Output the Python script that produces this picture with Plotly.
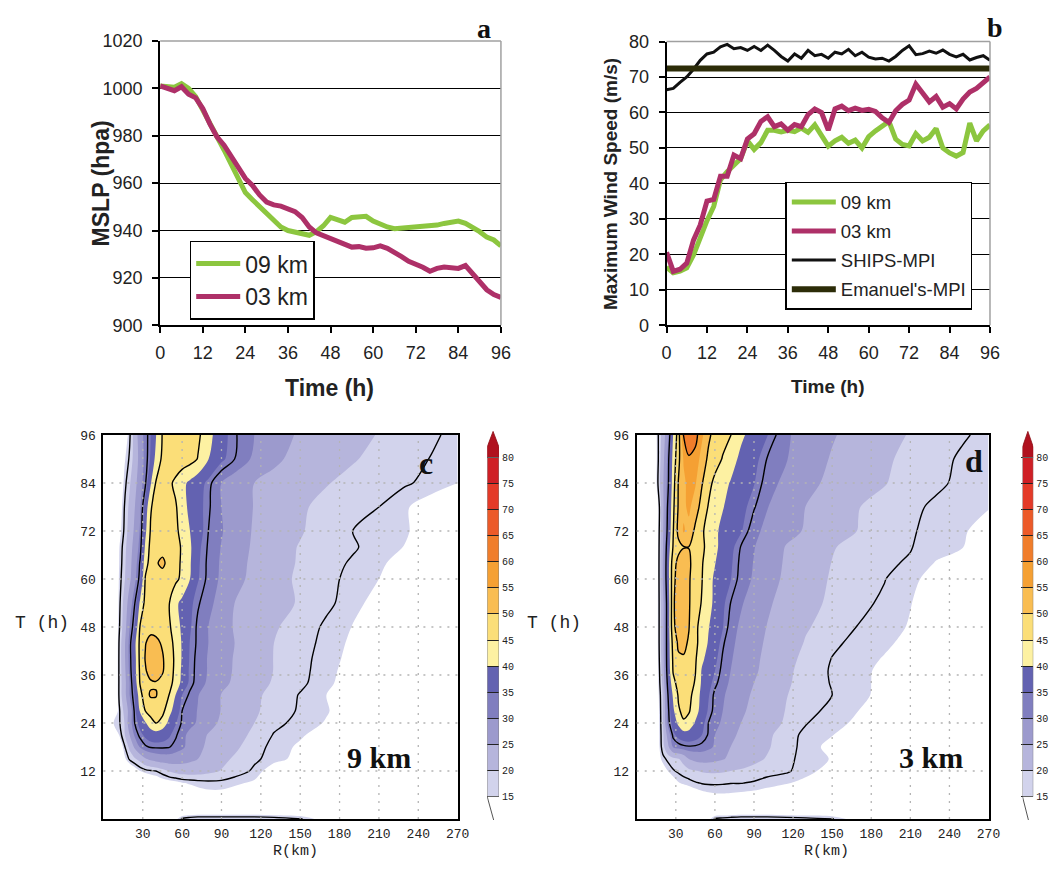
import plotly.graph_objects as go

# ---------------- data: panel a (MSLP) ----------------
T_A = list(range(0, 97, 2))
MSLP_09KM = [1001, 1001, 1000.5, 1002, 1000, 996.5, 991, 986, 980, 974, 968, 962, 956, 953, 950, 947, 944,
             941.5, 940, 939.5, 938.5, 938, 939.5, 942, 945.5, 944.5, 943.5, 945.5, 946, 946, 944, 942.5,
             941.5, 940.8, 941, 941.4, 941.4, 941.6, 942, 942.3, 943, 943.5, 944, 943, 941.5, 939.5, 937.2,
             936, 933.5]
MSLP_03KM = [1001, 1000, 999, 1000.7, 997.5, 996, 991.5, 985, 979.5, 976, 971, 966, 962, 959, 955, 952,
             950.8, 950.3, 949.3, 948, 945.5, 941.5, 939, 937.8, 936.8, 935.5, 934, 933, 933.2, 932.5, 932.7,
             933.5, 932.5, 931, 929, 927, 926, 924.5, 922.8, 924, 924.6, 924.5, 924, 925.2, 922, 918.5, 915,
             913, 911.7]

# ---------------- data: panel b (max wind) ----------------
T_B = list(range(0, 97, 2))
VMAX_09KM = [16.4, 14.8, 15.3, 16.2, 19.8, 24.7, 29.5, 33.5, 41, 43.3, 45, 47, 52, 49.6, 51.5, 55, 55, 54.5,
             55, 54.6, 55.6, 54.4, 56.5, 53.5, 50.5, 52, 53, 51.3, 52.2, 50, 53.2, 54.8, 56, 57.5, 52.5, 51,
             50.6, 54, 52, 53, 55.5, 50, 48.6, 47.7, 48.7, 57, 52, 54.8, 56.5]
VMAX_03KM = [20.6, 15.2, 15.8, 17.5, 24, 28.3, 35, 35.5, 42, 42, 48, 47, 52.5, 54, 57.5, 58.8, 56, 56.8, 55,
             56.6, 56, 59.4, 61, 60, 55, 61, 61.8, 60.5, 61.2, 60.6, 60.9, 60.3, 58.5, 57.2, 60.5, 62.3, 63.5,
             68, 65.5, 63, 64.5, 61.5, 62.5, 61, 63.8, 65.8, 66.8, 68.6, 70]
SHIPS_MPI = [66.4, 66.8, 68.5, 70, 72.2, 74.7, 76.5, 77, 78.5, 79.2, 78, 78.3, 77.5, 78.6, 77.5, 79, 77.5,
             75.8, 74.5, 76.5, 75.3, 77.5, 76, 76.4, 75.3, 77, 76.5, 77.8, 76, 77, 75.6, 75.1, 75.3, 74.5,
             75.8, 77.5, 78.8, 76.3, 76.6, 77.3, 76.7, 77.6, 76.4, 75.7, 76.4, 74.8, 75.5, 76, 74.7]
EMANUEL_MPI = 72.4

# ---------------- data: panels c/d (wind speed vs radius & time) ----------------
R_KM = [0, 8, 12, 16, 20, 24, 28, 32, 36, 40, 45, 50, 55, 60, 66, 72, 80, 90, 100, 115, 130, 150, 170, 190,
        210, 230, 250, 270]
T_H = [0, 3, 6, 9, 12, 15, 18, 21, 24, 27, 31, 34, 37, 40, 44, 48, 54, 60, 64, 68, 72, 78, 84, 90, 96]

WIND_9KM = [
    [5, 5, 6, 6, 7, 7, 8, 8, 9, 10, 11, 12, 14, 17.6, 18.5, 19, 19, 19, 19, 19, 18.5, 17.4, 13, 11, 10, 9, 8, 7],
    [3, 4, 4.5, 5, 5.5, 6, 6.5, 7, 7, 7, 7, 7, 7, 7, 7.5, 7.5, 7.5, 7.5, 7.5, 7.5, 7.5, 7.5, 7.5, 7.5, 7, 7, 6.5, 6],
    [3, 4, 4.5, 5, 6, 6.5, 7.5, 8, 9, 9.5, 10.5, 11.5, 12, 12.5, 13, 13.5, 14, 14, 13.5, 12.5, 11.5, 10.5, 9.5, 8.5, 7.5, 7, 6.5, 6],
    [3, 4, 5, 6, 7, 8, 9, 10, 11, 12, 13, 13.5, 14, 14.8, 15.3, 15.8, 16.2, 16.2, 15.5, 14.5, 13.5, 12, 11, 10, 9, 8, 7, 6],
    [3, 5, 7, 9, 11, 13, 15, 16, 16.6, 17, 18.5, 20.3, 21.3, 22, 22.2, 21.8, 21, 19.8, 18.5, 16.5, 13, 11, 9.5, 8.5, 7.5, 7, 6, 5],
    [3, 6, 9, 14, 17.5, 19.5, 21.5, 24.5, 26, 27, 27.8, 28, 27.6, 27, 26, 25, 23, 21, 19.5, 17.5, 16, 14, 12, 10.5, 9, 8, 7, 6],
    [3, 7, 11, 16.5, 21, 26, 30.5, 32.5, 33.3, 33.5, 33.5, 33.2, 32, 30.8, 28.5, 26.3, 24, 22, 20.8, 18, 16.3, 14.5, 12.5, 11, 9.5, 8.5, 7.5, 6.5],
    [3, 9, 15, 19.5, 25, 31, 34, 35.8, 37, 37.5, 37, 35.6, 33.5, 31.2, 28.8, 26.8, 24.7, 23, 21.5, 19.2, 16.8, 15.4, 13.5, 12, 10.5, 9, 8, 7],
    [10, 15.5, 16.5, 20, 28, 33.2, 36.5, 39.5, 43, 45.3, 43, 38.8, 35.3, 32.6, 31.2, 29.5, 26.6, 24.2, 22.3, 20, 17.8, 16.1, 14.8, 13, 11.5, 10, 9, 8],
    [5, 10, 16.5, 21, 27, 34, 40.5, 45, 47, 48, 46.5, 41.5, 38, 33, 31.5, 29.8, 27.2, 24.8, 22.8, 20.5, 18.7, 16.6, 15.2, 13.5, 12, 10.5, 9.5, 8.5],
    [4, 8, 17.5, 23, 30, 35.5, 43, 48.5, 50.5, 50.3, 48, 45, 40, 35, 32.4, 30.2, 28, 24.8, 23, 20.7, 19, 16.8, 15, 13.5, 12, 10.5, 9.5, 8.5],
    [4, 8, 17.5, 23, 30, 37.5, 45.5, 48.5, 49.3, 49.6, 48.5, 46.5, 43.5, 38.5, 34, 31.8, 29.3, 26.3, 24.2, 21.6, 19.6, 17.6, 15.5, 13.8, 12.2, 10.8, 9.5, 8.5],
    [4, 8, 17.5, 23.5, 31, 38.5, 46, 49.5, 52, 52.5, 50.5, 47, 44, 39, 34.2, 32, 29.7, 26.6, 24.6, 22, 19.9, 17.8, 15.7, 14, 12.3, 11, 9.7, 8.6],
    [4, 8, 17.5, 24, 31.5, 38.5, 46.5, 50.3, 53, 53, 50.5, 47.5, 44, 39.5, 34.5, 32, 29.7, 26.7, 24.7, 22.2, 19.9, 17.8, 16, 14.2, 12.5, 11, 9.8, 8.7],
    [4, 8, 17.3, 24, 31.5, 39, 46.5, 49.8, 51.5, 51, 49.5, 47, 43.5, 39.5, 34.8, 32.4, 30, 27, 25, 22.4, 20, 18, 16.3, 14.5, 12.8, 11.3, 10, 8.8],
    [4, 8, 16.5, 22.5, 30, 35.5, 45.5, 48, 48.5, 48.5, 47.5, 45.8, 42.5, 39, 35.5, 32.3, 30, 27.3, 24.6, 22.4, 20.4, 18.5, 16.5, 14.9, 13.2, 11.6, 10.2, 9],
    [4, 7.5, 16, 21.5, 27.5, 33, 41, 46.5, 47.5, 47.5, 46.5, 45.3, 41, 38.8, 36, 33.4, 31.2, 28.2, 25, 23.1, 21.5, 19.6, 17.6, 15.8, 14, 12.3, 10.8, 9.5],
    [4, 7, 15.5, 19.5, 24, 29, 34.5, 45.5, 47.5, 48, 48, 47.5, 46, 44, 40, 35.3, 32.2, 29.3, 26.4, 23.8, 21.5, 19.3, 17.7, 16.3, 15, 13, 11.5, 10],
    [4, 7, 15, 19, 23.5, 28, 33.5, 43, 47, 49.5, 51, 48.5, 46.5, 44.3, 40.5, 35.6, 32.3, 29.5, 26.8, 24, 21.7, 19.6, 17.9, 16.7, 15.5, 13.8, 12, 10.5],
    [4, 7, 14.8, 18.5, 23, 27, 31.5, 41, 46.5, 48, 48.3, 48, 46.5, 44.5, 40.8, 36, 32.6, 29.8, 27.3, 24.3, 22, 19.7, 18, 17.3, 16, 14.9, 13, 11],
    [4, 6.5, 13.5, 17.5, 22, 26, 30.5, 39, 45.5, 47.5, 48, 47.5, 46, 43.5, 40, 37, 33, 30.3, 27.8, 24.5, 22.5, 20.4, 18, 17, 16, 15.3, 13.5, 11.5],
    [4, 6.5, 12.5, 17, 21, 25, 29.5, 37, 44.5, 47, 48, 47.3, 45.5, 42.5, 38.5, 36.5, 33.5, 30, 27.8, 24.8, 22.7, 20.5, 19, 18, 17, 15.3, 13.5, 12],
    [4, 6, 11, 15.8, 19.5, 23.5, 28, 32.5, 39.5, 45.3, 47, 46, 44, 41.3, 39, 37, 34, 30, 27.8, 25, 23.5, 21.5, 20.2, 19, 18, 17.3, 16.3, 15],
    [4, 6, 10, 14.5, 17.5, 22, 27, 31.5, 35.5, 41.5, 46, 47.5, 48, 47.8, 46.8, 44.8, 40.1, 35.8, 33, 29.2, 26, 23.3, 21.5, 20.3, 19, 17.8, 16.9, 15.8],
    [4, 5.5, 8, 12, 16.5, 22, 28, 31.5, 35, 39.8, 45.3, 47, 48, 48, 47.5, 46, 41.8, 36.5, 33.4, 30, 27.3, 24.3, 22.5, 21.2, 19.8, 18.6, 17.4, 16.3],
]

WIND_3KM = [
    [5, 5, 6, 6, 7, 7, 8, 8, 9, 10, 11, 12, 14, 17.5, 18, 18.5, 19, 19, 19, 18.5, 18, 17.3, 13, 11, 10, 9, 8, 7],
    [3, 4, 5, 5.5, 6, 6.5, 7, 7, 7, 7, 7, 7, 7, 7.5, 7.5, 7.5, 7.5, 7.5, 7.5, 7.5, 7.5, 7.5, 7.5, 7.5, 7, 7, 6.5, 6],
    [3, 4, 5, 6, 7, 8, 9, 10, 11, 12, 13, 13.8, 14.3, 14.6, 14.7, 14.6, 14.3, 14, 13.5, 12.5, 11.5, 10.5, 9.5, 8.5, 7.5, 7, 6.5, 6],
    [3, 4, 6, 8, 10, 11.5, 13, 14.8, 15.5, 16, 16.7, 17.2, 17.4, 17.4, 17.3, 17.1, 17.1, 16.7, 16, 15.2, 14.3, 12, 11, 10, 9, 8, 7, 6],
    [3, 5, 8, 11, 13, 15, 16.7, 17.5, 18.3, 19, 19.8, 20.3, 20.5, 20.6, 20.4, 20, 19.5, 18.8, 18, 17.4, 15.7, 14, 12.5, 11, 10, 9, 8, 7],
    [3, 6, 9, 13, 16, 17.8, 18.8, 19.7, 21.5, 25, 26.3, 27, 26.8, 26.3, 25.3, 24.2, 22.7, 21, 19.7, 17.5, 16.3, 14.8, 13, 11.5, 10.5, 9.5, 8.5, 7.5],
    [3, 6, 9, 13, 18.5, 24, 30.3, 31.5, 32.3, 32.6, 32.5, 32, 31, 29.5, 27.2, 25, 23.4, 21.8, 20.5, 17.8, 16.3, 14, 13, 12, 10.5, 9.5, 8.5, 7.5],
    [3, 6, 9, 13, 19, 27, 34, 36.5, 37.7, 38, 37, 35, 32.7, 30, 27.7, 26, 24.2, 22.5, 21, 17.8, 16.5, 15.1, 13.5, 12, 11, 10, 9, 8],
    [3, 6, 9, 13, 19.5, 31.5, 37, 41, 44.5, 43, 39.5, 36.3, 33, 31.3, 29.3, 27.5, 25, 23, 21.5, 19.5, 17.1, 15.8, 14.5, 13, 11.5, 10.5, 9.5, 8.5],
    [3, 6, 9, 13, 19.8, 32, 39, 44.5, 46, 45.5, 42, 38, 34.5, 32, 30, 28.2, 25.8, 23.7, 22, 19.8, 17.8, 16.3, 15, 13.6, 12.2, 11, 10, 9],
    [3, 6, 9, 13.5, 20, 33, 41, 45.5, 47, 46.5, 43, 38.5, 35.4, 32.2, 30.5, 28.8, 26.6, 24.3, 22.6, 20.1, 18.6, 17, 15.6, 14.3, 12.8, 11.5, 10.5, 9.5],
    [3, 6, 9, 14, 21, 35, 43.5, 46.8, 47.8, 47.5, 44.5, 39.2, 36.3, 33.8, 31.3, 29.5, 27.4, 25, 23.1, 20.5, 18.6, 16.8, 15.7, 14.3, 12.9, 11.7, 10.6, 9.6],
    [3, 6, 9, 14, 22, 36.5, 45.5, 47.5, 48.3, 48, 45.2, 39.5, 37, 35, 32, 30, 28, 25.7, 23.6, 20.8, 18.6, 16.7, 15.8, 14.3, 13, 11.8, 10.7, 9.7],
    [3, 6, 9, 14.3, 22.5, 37, 46, 49.3, 49.6, 48.5, 45.6, 41, 38.2, 36, 32.6, 30.4, 28.3, 26, 23.9, 21.2, 19, 16.9, 16, 14.8, 13.5, 12.2, 11, 9.9],
    [3, 6, 9, 14.5, 23, 37, 47, 50.8, 51, 49.5, 46.2, 42.8, 39.6, 37.5, 33.5, 31, 28.7, 26.4, 24.4, 21.8, 19.7, 17.5, 16.3, 15.5, 14.2, 12.7, 11.3, 10.1],
    [3, 6, 9, 14.5, 23, 37, 49, 52, 52.5, 50.2, 46.2, 43, 40.3, 37.8, 35.2, 31.8, 29.2, 26.6, 24.9, 22.4, 20.3, 18.7, 16.9, 15.9, 14.8, 13, 11.5, 10.3],
    [3, 6, 9, 14.5, 23, 37, 49, 53.5, 53, 50.5, 47, 44.7, 41.5, 39, 35.8, 33, 30.5, 27.8, 25.7, 23.3, 21.2, 19.3, 17.6, 16.6, 15.1, 13.5, 12, 10.5],
    [3, 6, 9, 14, 25, 38, 48.5, 52.5, 52.5, 50.5, 47.7, 45.2, 41.5, 39.3, 37, 35.2, 31.8, 29.5, 26.8, 24.1, 21.9, 19.6, 18, 17.1, 15.6, 14, 12.5, 11],
    [3, 6, 9, 14, 25, 38, 48, 51.5, 52, 50.8, 48, 45.5, 42, 40.2, 37.5, 35.6, 32.2, 29.8, 27.2, 24.4, 22.2, 19.9, 18.2, 17.3, 16.8, 14.8, 13, 11.5],
    [3, 6, 9, 14, 24.5, 37, 45.5, 48.5, 49.8, 49.9, 48.5, 46, 43.5, 41, 38.5, 36.2, 32.8, 30.2, 27.8, 24.7, 22.5, 20.3, 18.6, 17.8, 17.1, 16, 15.1, 13],
    [3, 6, 9, 13.8, 24, 35, 44.8, 51.5, 55.5, 53.5, 48.8, 45.6, 43.5, 41, 38.7, 37.3, 35.4, 31, 29, 26.3, 24.6, 21.8, 19.9, 18.5, 17.2, 16.4, 15.4, 13.5],
    [3, 6, 9, 13.5, 23.5, 34, 44, 50.5, 54, 56, 52.5, 48, 44.7, 42.5, 40.3, 38.3, 36.4, 33.3, 30.2, 27.3, 24.9, 22.5, 20.1, 18.9, 17.6, 16.5, 15.9, 15.2],
    [3, 6, 9, 16.5, 24, 32, 43, 50.3, 54, 56.5, 55.5, 50.4, 46.5, 43.8, 41.5, 39.7, 37.3, 35.2, 31.6, 28.8, 26.2, 24, 21.6, 20.2, 18.6, 17.5, 16.4, 15.1],
    [3, 6, 9, 16, 23, 31.5, 42, 48.5, 55.5, 59.3, 58, 53, 49, 47, 44.7, 42.2, 38.8, 36.3, 32.9, 30.2, 27.4, 24.6, 22.3, 20.6, 19, 17.8, 16.6, 15.5],
    [3, 6, 9, 16.2, 22, 29, 40.3, 47.5, 60.5, 64, 62, 56, 51, 48.3, 46.5, 45.2, 41, 37.8, 35.2, 30.5, 28.3, 25.4, 23.2, 21.5, 19.7, 18.5, 17.3, 16.3],
]

LEVELS = list(range(15, 81, 5))          # shaded levels (m/s)
LINE_LEVELS = [17, 33, 45, 50, 60]       # black contour lines (m/s)
BAND_COLORS = ['#ffffff', '#d2d3ec', '#b6b5dc', '#9c9acd', '#807ebf', '#6362b1',
               '#fdf1a2', '#fbde78', '#f9bd52', '#f5a033', '#f07d2b', '#ec5a29',
               '#e43a28', '#cf1f25', '#b0121f']
R_TICKS = list(range(30, 271, 30))
T_TICKS = list(range(12, 97, 12))
TIME_TICKS = list(range(0, 97, 12))

GREEN = '#8cc63f'
MAGENTA = '#ae3068'
SANS = 'Arial, Liberation Sans, sans-serif'
MONO = 'Liberation Mono, Courier New, monospace'
SERIF = 'Liberation Serif, Times New Roman, serif'
W, H = 1063, 871


def px(x0, x1):
    return [x0 / W, x1 / W]


def py(ytop, ybot):
    return [1 - ybot / H, 1 - ytop / H]


fig = go.Figure()

# ---- panel a ----
fig.add_trace(go.Scatter(x=T_A, y=MSLP_09KM, mode='lines', name='09 km', line=dict(color=GREEN, width=5),
                         xaxis='x', yaxis='y', legend='legend'))
fig.add_trace(go.Scatter(x=T_A, y=MSLP_03KM, mode='lines', name='03 km', line=dict(color=MAGENTA, width=5),
                         xaxis='x', yaxis='y', legend='legend'))

# ---- panel b ----
fig.add_trace(go.Scatter(x=T_B, y=VMAX_09KM, mode='lines', name='09 km', line=dict(color=GREEN, width=5),
                         xaxis='x2', yaxis='y2', legend='legend2', legendgroup='g1'))
fig.add_trace(go.Scatter(x=T_B, y=VMAX_03KM, mode='lines', name='03 km', line=dict(color=MAGENTA, width=5),
                         xaxis='x2', yaxis='y2', legend='legend2', legendgroup='g2'))
fig.add_trace(go.Scatter(x=T_B, y=SHIPS_MPI, mode='lines', name='SHIPS-MPI', line=dict(color='#111111', width=3),
                         xaxis='x2', yaxis='y2', legend='legend2', legendgroup='g3'))
fig.add_trace(go.Scatter(x=T_B, y=[EMANUEL_MPI] * len(T_B), mode='lines', name="Emanuel's-MPI",
                         line=dict(color='#2c2c08', width=6),
                         xaxis='x2', yaxis='y2', legend='legend2', legendgroup='g4'))

# ---- panels c and d ----
SMOOTH = 0.9
CSCALE = [[k / (len(BAND_COLORS) - 1), c] for k, c in enumerate(BAND_COLORS)]
for grid, xa, ya in [(WIND_9KM, 'x3', 'y3'), (WIND_3KM, 'x4', 'y4')]:
    fig.add_trace(go.Contour(x=R_KM, y=T_H, z=grid, xaxis=xa, yaxis=ya, autocontour=False,
                             contours=dict(start=LEVELS[0], end=LEVELS[-1], size=LEVELS[1] - LEVELS[0],
                                           coloring='fill', showlines=False),
                             colorscale=CSCALE, showscale=False, line=dict(width=0, smoothing=SMOOTH),
                             hoverinfo='skip', showlegend=False))
    for lev in LINE_LEVELS:
        fig.add_trace(go.Contour(x=R_KM, y=T_H, z=grid, xaxis=xa, yaxis=ya, autocontour=False,
                                 contours=dict(start=lev, end=lev, size=1, coloring='none'),
                                 line=dict(color='black', width=1.4, smoothing=SMOOTH),
                                 showscale=False, hoverinfo='skip', showlegend=False))

# ---- colour bars (drawn from the level list) ----
STEP = LEVELS[1] - LEVELS[0]
BAND_MIDS = [(LEVELS[i] + LEVELS[i + 1]) / 2 for i in range(len(LEVELS) - 1)]
for xa, ya in [('x5', 'y5'), ('x6', 'y6')]:
    fig.add_trace(go.Heatmap(x=[0, 1], y=LEVELS, z=[[m] for m in BAND_MIDS], xaxis=xa, yaxis=ya,
                             zmin=LEVELS[0] - STEP / 2, zmax=LEVELS[-1] + STEP / 2, colorscale=CSCALE,
                             showscale=False, hoverinfo='skip'))
    top = LEVELS[-1]
    fig.add_trace(go.Scatter(x=[0, 0, 0.5, 1, 1, 0],
                             y=[top, top + 0.4 * STEP, top + 1.0 * STEP, top + 0.4 * STEP, top, top],
                             fill='toself', fillcolor=BAND_COLORS[-1], mode='lines',
                             line=dict(color='#8a0d14', width=0.8), xaxis=xa, yaxis=ya,
                             hoverinfo='skip', showlegend=False))
    fig.add_trace(go.Scatter(x=[0, 0.55], y=[LEVELS[0], LEVELS[0] - 0.9 * STEP], mode='lines',
                             line=dict(color='#555555', width=1), xaxis=xa, yaxis=ya,
                             hoverinfo='skip', showlegend=False))

# ---- layout ----
A_X, A_Y = px(157.7, 504), py(31.7, 322.7)
B_X, B_Y = px(672.3, 1001), py(32.3, 322.7)
C_X, D_X = px(100, 460), px(642, 999.5)
CD_Y = py(435, 828)
CB_Y = py(430, 830)
CB_RANGE = [LEVELS[0] - 25 / (347 / 65), LEVELS[-1] + 28 / (347 / 65)]

line_axis = dict(showline=True, linecolor='black', linewidth=2, ticks='outside', ticklen=6, tickcolor='black',
                 tickwidth=1.5, tickfont=dict(family=SANS, size=18, color='#222222'), zeroline=False)

panel_x = dict(range=[0, 96], tickvals=TIME_TICKS, showgrid=False, ticklabelstandoff=4, **line_axis)

cd_common = dict(showgrid=False, zeroline=False, showline=True, mirror=True, linecolor='black', linewidth=2,
                 ticks='', tickfont=dict(family=MONO, size=13, color='#222222'))
cd_x = dict(range=[0, 270], tickvals=R_TICKS, ticklabelstandoff=1, **cd_common)
cd_y = dict(range=[0, 96], tickvals=T_TICKS, ticklabelstandoff=3, **cd_common)

cb_x = dict(range=[0, 1], visible=False, fixedrange=True)
cb_y = dict(range=CB_RANGE, side='right', tickvals=LEVELS, ticktext=[str(v) for v in LEVELS], ticks='inside',
            ticklen=12, tickwidth=1, tickcolor='#222222', showgrid=False, zeroline=False, showline=False,
            tickfont=dict(family=MONO, size=10, color='#222222'), layer='above traces', ticklabelstandoff=2)

fig.update_layout(
    width=W, height=H, margin=dict(l=0, r=0, t=0, b=0), autosize=False,
    paper_bgcolor='white', plot_bgcolor='white',
    xaxis=dict(domain=A_X, anchor='y', **panel_x),
    yaxis=dict(domain=A_Y, anchor='x', range=[900, 1020], dtick=20, showgrid=True, gridcolor='black',
               gridwidth=1, ticklabelstandoff=6, **line_axis),
    xaxis2=dict(domain=B_X, anchor='y2', **panel_x),
    yaxis2=dict(domain=B_Y, anchor='x2', range=[0, 80], dtick=10, showgrid=True, gridcolor='black',
                gridwidth=1, ticklabelstandoff=6, **line_axis),
    xaxis3=dict(domain=C_X, anchor='y3', **cd_x),
    yaxis3=dict(domain=CD_Y, anchor='x3', **cd_y),
    xaxis4=dict(domain=D_X, anchor='y4', **cd_x),
    yaxis4=dict(domain=CD_Y, anchor='x4', **cd_y),
    xaxis5=dict(domain=px(490, 502), anchor='y5', **cb_x),
    yaxis5=dict(domain=CB_Y, anchor='x5', **cb_y),
    xaxis6=dict(domain=px(1034, 1045), anchor='y6', **cb_x),
    yaxis6=dict(domain=CB_Y, anchor='x6', **cb_y),
    legend=dict(x=187.7 / W, y=1 - 236 / H, xanchor='left', yanchor='top', bgcolor='white',
                bordercolor='black', borderwidth=1.5, font=dict(family=SANS, size=23, color='#222222'),
                itemwidth=44, tracegroupgap=0),
    legend2=dict(x=793 / W, y=1 - 176 / H, xanchor='left', yanchor='top', bgcolor='white',
                 bordercolor='black', borderwidth=1.5, font=dict(family=SANS, size=18.5, color='#222222'),
                 itemwidth=44, tracegroupgap=2),
)

shapes = []
# grey plot-area frame (top & right) for panels a and b
for xr, yr in [('x', 'y'), ('x2', 'y2')]:
    shapes.append(dict(type='line', xref=xr + ' domain', yref=yr + ' domain', x0=0, x1=1, y0=1, y1=1,
                       line=dict(color='#a0a0a0', width=1.5), layer='above'))
    shapes.append(dict(type='line', xref=xr + ' domain', yref=yr + ' domain', x0=1, x1=1, y0=0, y1=1,
                       line=dict(color='#a0a0a0', width=1.5), layer='above'))
# dotted grid for panels c and d
for xr, yr in [('x3', 'y3'), ('x4', 'y4')]:
    for r in R_TICKS[:-1]:
        shapes.append(dict(type='line', xref=xr, yref=yr + ' domain', x0=r, x1=r, y0=0, y1=1,
                           line=dict(color='#b4b4b4', width=1.3, dash='2px,6px'), layer='above'))
    for t in T_TICKS[:-1]:
        shapes.append(dict(type='line', xref=xr + ' domain', yref=yr, x0=0, x1=1, y0=t, y1=t,
                           line=dict(color='#b4b4b4', width=1.3, dash='2px,6px'), layer='above'))
# colour bar outline
for xr, yr in [('x5', 'y5'), ('x6', 'y6')]:
    shapes.append(dict(type='rect', xref=xr, yref=yr, x0=0, x1=1, y0=LEVELS[0], y1=LEVELS[-1],
                       line=dict(color='#777777', width=0.8), layer='above'))
fig.update_layout(shapes=shapes)


def ann(text, x, y, size, family=SANS, angle=0, color='#111111'):
    return dict(text=text, x=x / W, y=1 - y / H, xref='paper', yref='paper', showarrow=False,
                xanchor='center', yanchor='middle', textangle=angle,
                font=dict(family=family, size=size, color=color))


fig.update_layout(annotations=[
    ann('<b>MSLP (hpa)</b>', 97, 177, 23, angle=-90, color='#222222'),
    ann('<b>Time (h)</b>', 330, 387, 23, color='#222222'),
    ann('<b>Maximum Wind Speed (m/s)</b>', 615.5, 178.5, 19, angle=-90, color='#222222'),
    ann('<b>Time (h)</b>', 836.7, 385, 19, color='#222222'),
    ann('<b>a</b>', 487, 19, 28, family=SERIF),
    ann('<b>b</b>', 1006, 18, 28, family=SERIF),
    ann('<b>c</b>', 428, 464, 32, family=SERIF),
    ann('<b>d</b>', 985, 462, 32, family=SERIF),
    ann('<b>9 km</b>', 380, 765, 30, family=SERIF),
    ann('<b>3 km</b>', 941, 765, 30, family=SERIF),
    ann('T (h)', 37.5, 627, 18, family=MONO, color='#222222'),
    ann('T (h)', 558, 627, 18, family=MONO, color='#222222'),
    dict(text='R(km)', x=295 / W, y=0, xref='paper', yref='paper', showarrow=False, xanchor='center',
         yanchor='bottom', borderpad=0, font=dict(family=MONO, size=15, color='#222222')),
    dict(text='R(km)', x=835 / W, y=0, xref='paper', yref='paper', showarrow=False, xanchor='center',
         yanchor='bottom', borderpad=0, font=dict(family=MONO, size=15, color='#222222')),
])

fig.write_html('out.html')
